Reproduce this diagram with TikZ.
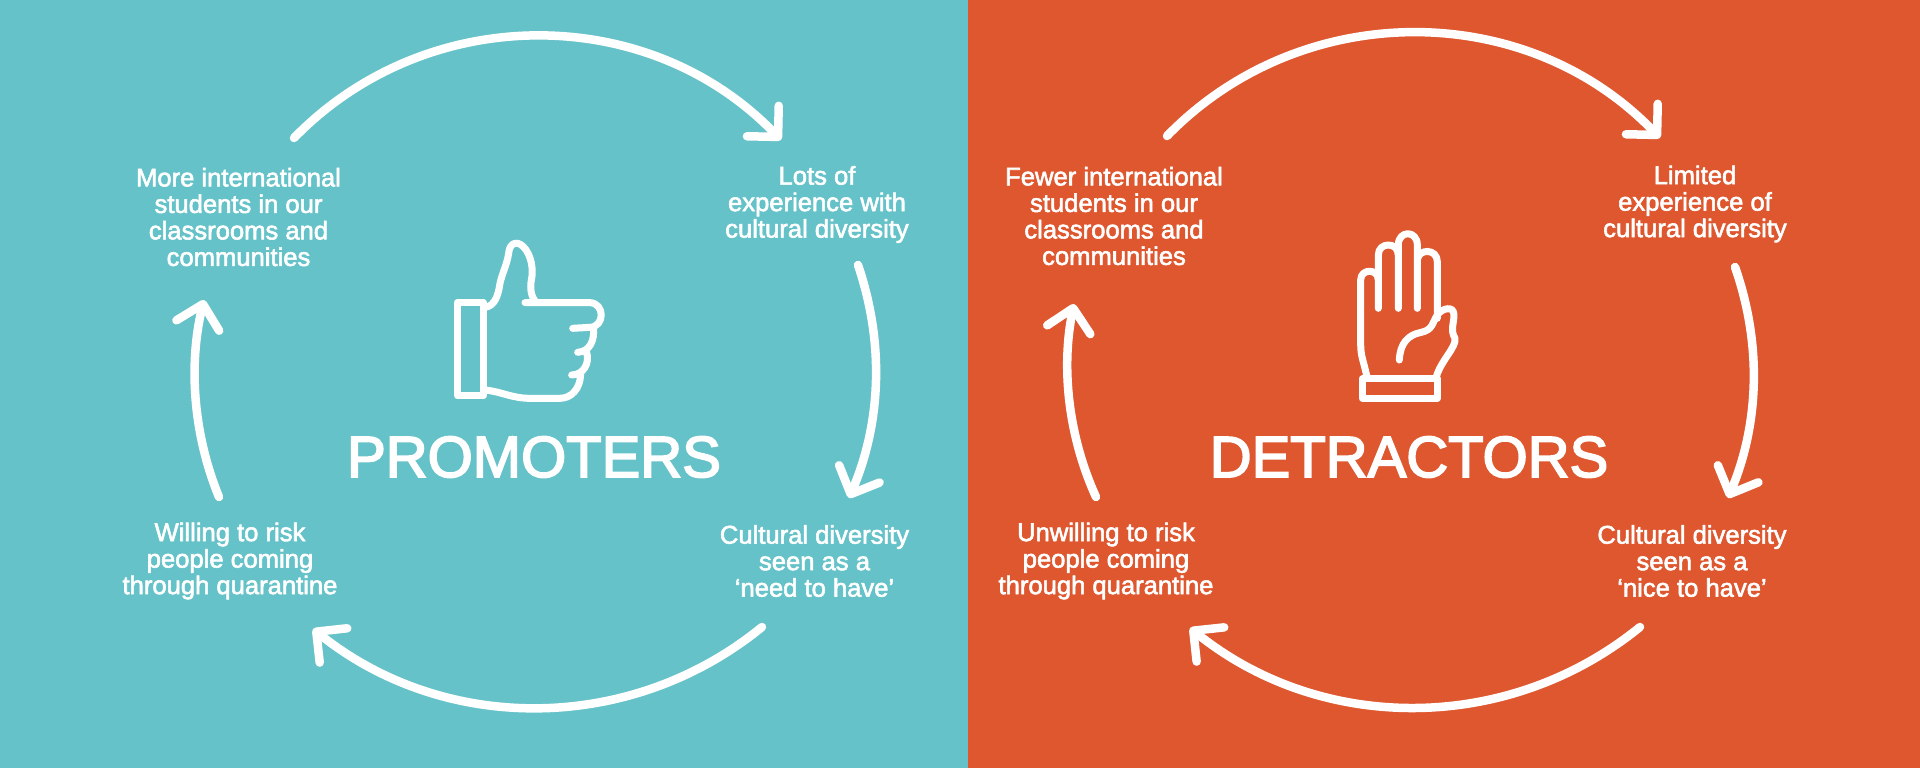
\documentclass[tikz,border=0pt]{standalone}
\usepackage{fontspec}
\setmainfont[FakeBold=2.2]{Liberation Sans}
\newfontfamily\bigfont[FakeBold=3]{Liberation Sans}
\usetikzlibrary{arrows.meta}
\definecolor{panelteal}{HTML}{66C2C9}
\definecolor{panelred}{HTML}{DE572F}
\tikzset{
    cycle/.style={draw=white,line width=8.5pt,line cap=round,
        -{Straight Barb[length=22pt,width=44pt,round]}},
    step text/.style={text=white,align=center,font=\fontsize{25.6}{26.5}\selectfont},
    big text/.style={text=white,font=\bigfont\fontsize{58}{60}\selectfont},
    icon line/.style={draw=white,line width=7pt,line cap=round,line join=round},
    icon/.style={x=0.3333pt,y=-0.3333pt,icon line}
}
\begin{document}
\begin{tikzpicture}[x=1pt,y=-1pt]
\useasboundingbox (0,0) rectangle (1920,768);
\fill[panelteal] (0,0) rectangle (968,768);
\fill[panelred] (968,0) rectangle (1920,768);
% promoters
\node(P1) [step text] at (238.5,217) {More international\\students in our\\classrooms and\\communities};
\node(P2) [step text] at (817,204.5) {Lots of\\experience with\\cultural diversity};
\node(P3) [step text] at (814.5,561) {Cultural diversity\\seen as a\\`need to have'};
\node(P4) [step text] at (230,561) {Willing to risk\\people coming\\through quarantine};
\node(P) [big text] at (534,457) {PROMOTERS};
\coordinate(P1a) at (294,138);  \coordinate(P1b) at (781,140);
\coordinate(P2a) at (858,265);  \coordinate(P2b) at (849,498);
\coordinate(P3a) at (762,627);  \coordinate(P3b) at (313,629);
\coordinate(P4a) at (219,497);  \coordinate(P4b) at (204,300);
\draw[cycle] (P1a) to[bend left=46] (P1b);
\draw[cycle] (P2a) to[bend left=21,looseness=0.9] (P2b);
\draw[cycle] (P3a) to[bend left=39,looseness=0.96] (P3b);
\draw[cycle] (P4a) to[bend left=18,looseness=0.87] (P4b);
% thumb
\begin{scope}[shift={(430,220)},icon]
\draw (83,247) rectangle (160,528);
\draw (165,262) .. controls (195,258) and (205,225) .. (210,190) .. controls (215,165) and (232,130) .. (236,100)
      .. controls (238,70) and (260,60) .. (280,80) .. controls (305,105) and (310,150) .. (305,175)
      .. controls (298,210) and (305,230) .. (318,248);
\draw (285,248) -- (480,248) .. controls (525,250) and (525,320) .. (480,322) -- (428,325);
\draw (490,322) .. controls (495,360) and (480,395) .. (443,397);
\draw (470,397) .. controls (480,430) and (460,465) .. (425,465);
\draw (452,465) .. controls (450,505) and (425,535) .. (390,535) -- (300,535)
      .. controls (245,535) and (215,515) .. (165,510);
\end{scope}
% detractors
\node(D1) [step text] at (1114,216) {Fewer international\\students in our\\classrooms and\\communities};
\node(D2) [step text] at (1695,204) {Limited\\experience of\\cultural diversity};
\node(D3) [step text] at (1692,561) {Cultural diversity\\seen as a\\`nice to have'};
\node(D4) [step text] at (1106,561) {Unwilling to risk\\people coming\\through quarantine};
\node(D) [big text] at (1409,457) {DETRACTORS};
\coordinate(D1a) at (1167,136); \coordinate(D1b) at (1660,138);
\coordinate(D2a) at (1735,267); \coordinate(D2b) at (1728,498);
\coordinate(D3a) at (1640,627); \coordinate(D3b) at (1190,628);
\coordinate(D4a) at (1096,497); \coordinate(D4b) at (1074,304);
\draw[cycle] (D1a) to[bend left=46] (D1b);
\draw[cycle] (D2a) to[bend left=21,looseness=0.9] (D2b);
\draw[cycle] (D3a) to[bend left=39,looseness=0.96] (D3b);
\draw[cycle] (D4a) to[bend left=18,looseness=0.87] (D4b);
% hand
\begin{scope}[shift={(1330,210)},icon]
\draw (97,507) rectangle (322,565);
\draw (110,497) .. controls (100,450) and (92,440) .. (92,400) -- (92,210)
      .. controls (92,175) and (145,175) .. (145,210) -- (145,295);
\draw (145,210) -- (145,135) .. controls (145,95) and (205,95) .. (205,135) -- (205,295);
\draw (205,135) -- (205,105) .. controls (205,60) and (262,60) .. (262,105) -- (262,295);
\draw (262,150) .. controls (265,115) and (322,115) .. (322,155) -- (322,325);
\draw (208,450) .. controls (210,400) and (235,375) .. (270,368) .. controls (310,360) and (305,340) .. (322,315)
      .. controls (335,295) and (372,285) .. (372,315) .. controls (372,340) and (360,360) .. (375,385)
      .. controls (380,410) and (335,450) .. (320,497);
\end{scope}
\end{tikzpicture}
\end{document}
